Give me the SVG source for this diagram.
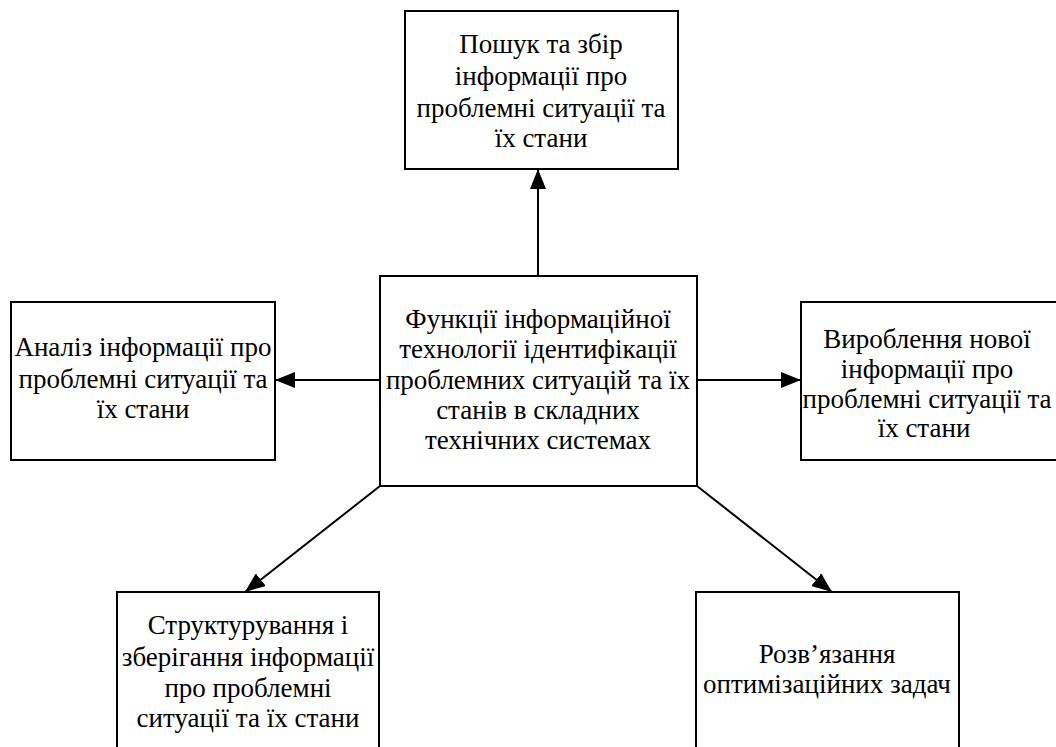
<svg xmlns="http://www.w3.org/2000/svg" width="1056" height="747" viewBox="0 0 1056 747">
<style>
.box{fill:#fff;stroke:#000;stroke-width:2}
.t{font-family:"Liberation Serif","Times New Roman",serif;font-size:27px;fill:#000;text-anchor:middle}
.c{stroke:#000;stroke-width:2;fill:none;marker-end:url(#ah)}
</style>
<defs>
<marker id="ah" markerUnits="userSpaceOnUse" markerWidth="20" markerHeight="16" refX="20" refY="8" orient="auto">
<path d="M0,0 L20,8 L0,16 z" fill="#000"/>
</marker>
</defs>
<rect width="1056" height="747" fill="#fff"/>
<g id="connectors">
<line class="c" x1="538" y1="276" x2="538" y2="169"/>
<line class="c" x1="380" y1="380" x2="275" y2="380"/>
<line class="c" x1="697" y1="380" x2="801" y2="380"/>
<line class="c" x1="380" y1="486" x2="245" y2="592"/>
<line class="c" x1="697" y1="486" x2="832" y2="592"/>
</g>
<g id="center">
<rect class="box" x="380" y="276" width="317" height="210"/>
<text class="t" x="538" y="328">Функції інформаційної</text>
<text class="t" x="538" y="358">технології ідентифікації</text>
<text class="t" x="538" y="389">проблемних ситуацій та їх</text>
<text class="t" x="538" y="419">станів в складних</text>
<text class="t" x="538" y="449">технічних системах</text>
</g>
<g id="top">
<rect class="box" x="405" y="11" width="273" height="158"/>
<text class="t" x="541" y="53">Пошук та збір</text>
<text class="t" x="541" y="85">інформації про</text>
<text class="t" x="541" y="117">проблемні ситуації та</text>
<text class="t" x="541" y="147">їх стани</text>
</g>
<g id="left">
<rect class="box" x="11" y="302" width="264" height="158"/>
<text class="t" x="143" y="356">Аналіз інформації про</text>
<text class="t" x="143" y="388">проблемні ситуації та</text>
<text class="t" x="143" y="418">їх стани</text>
</g>
<g id="right">
<rect class="box" x="801" y="302" width="270" height="158"/>
<text class="t" x="927" y="348">Вироблення нової</text>
<text class="t" x="927" y="378">інформації про</text>
<text class="t" x="927" y="408">проблемні ситуації та</text>
<text class="t" x="924" y="437">їх стани</text>
</g>
<g id="bottom-left">
<rect class="box" x="117" y="592" width="262" height="170"/>
<text class="t" x="248" y="634">Структурування і</text>
<text class="t" x="248" y="666">зберігання інформації</text>
<text class="t" x="248" y="697">про проблемні</text>
<text class="t" x="248" y="727">ситуації та їх стани</text>
</g>
<g id="bottom-right">
<rect class="box" x="696" y="592" width="263" height="170"/>
<text class="t" x="827" y="663">Розв’язання</text>
<text class="t" x="827" y="693">оптимізаційних задач</text>
</g>
</svg>
